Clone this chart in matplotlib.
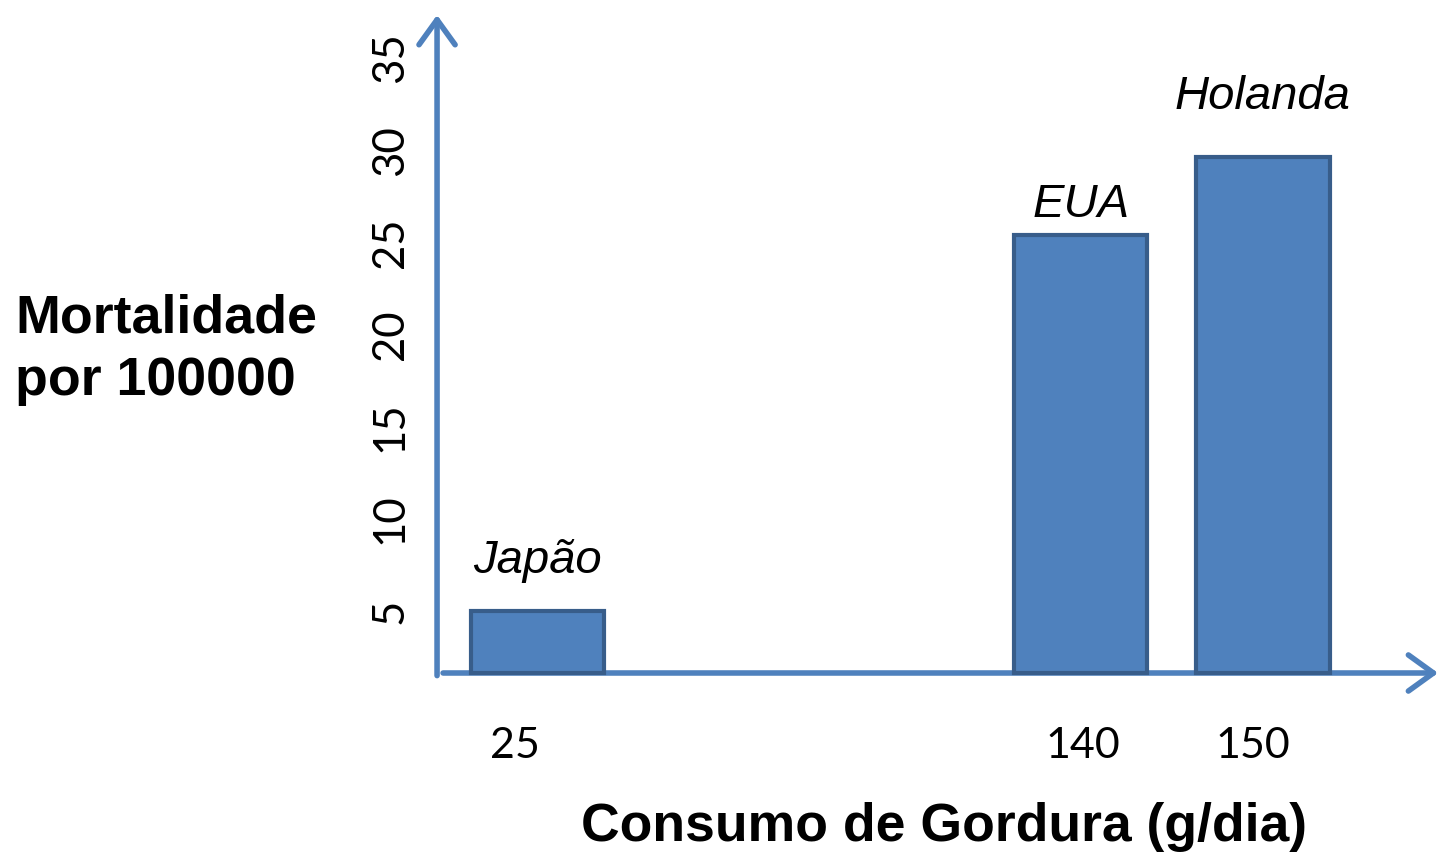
import matplotlib
matplotlib.use("Agg")
import matplotlib.pyplot as plt

# data
countries = ["Japão", "EUA", "Holanda"]
fat_intake = ["25", "140", "150"]          # g/dia, x tick labels
mortality = [5.0, 25.4, 29.6]              # por 100000
y_ticks = [5, 10, 15, 20, 25, 30, 35]

# layout (hand placed in the original diagram)
bar_pos = [1.0, 6.43, 8.25]
tick_pos = [0.78, 6.45, 8.15]
label_offset = [27, 13, 35]   # points above bar top
y0 = 1.63                     # value where the x axis sits

blue = "#4F81BD"
edge = "#385D8A"


def main():
    fig = plt.figure(figsize=(14.41, 8.52), dpi=100)
    ax = fig.add_axes([0.3033, 0.2101, 0.6947, 0.7723])
    ax.set_xlim(0, 10)
    ax.set_ylim(y0, 37.33)
    for s in ax.spines.values():
        s.set_visible(False)

    # bars start from the x axis line
    heights = [m - y0 for m in mortality]
    ax.bar(bar_pos, heights, width=1.33, bottom=y0, color=blue,
           edgecolor=edge, linewidth=3, zorder=3, clip_on=False)

    # bar labels
    for x, m, name, off in zip(bar_pos, mortality, countries, label_offset):
        ax.annotate(name, (x, m), xytext=(0, off), textcoords="offset points",
                    ha="center", va="baseline", fontsize=34, style="italic",
                    family="Liberation Sans", zorder=4)

    # axis arrows
    arrow = dict(arrowstyle="->,head_length=0.9,head_width=0.65", lw=4,
                 color=blue, shrinkA=0, shrinkB=0, mutation_scale=20,
                 capstyle="round", joinstyle="round")
    ax.annotate("", xy=(0, 1), xytext=(0, -0.004), xycoords="axes fraction",
                arrowprops=arrow, zorder=2, annotation_clip=False)
    ax.annotate("", xy=(1.0, 0), xytext=(0.006, 0), xycoords="axes fraction",
                arrowprops=arrow, zorder=2, annotation_clip=False)

    # ticks
    ax.set_yticks(y_ticks)
    ax.set_yticklabels([str(t) for t in y_ticks], rotation=90, va="center",
                       fontsize=31.5, family="Lato")
    ax.set_xticks(tick_pos)
    ax.set_xticklabels(fat_intake, fontsize=31, family="Lato")
    ax.tick_params(axis="y", length=0, pad=19)
    ax.tick_params(axis="x", length=0, pad=39)

    # axis titles
    fig.text(0.0104, 0.6092, "Mortalidade", fontsize=38.7, weight="bold",
             family="Liberation Sans", ha="left", va="baseline")
    fig.text(0.0104, 0.5364, "por 100000", fontsize=38.7, weight="bold",
             family="Liberation Sans", ha="left", va="baseline")
    fig.text(0.655, 0.0129, "Consumo de Gordura (g/dia)", fontsize=38.5,
             weight="bold", family="Liberation Sans", ha="center",
             va="baseline")

    fig.savefig("out.png", dpi=100)


if __name__ == "__main__":
    main()
